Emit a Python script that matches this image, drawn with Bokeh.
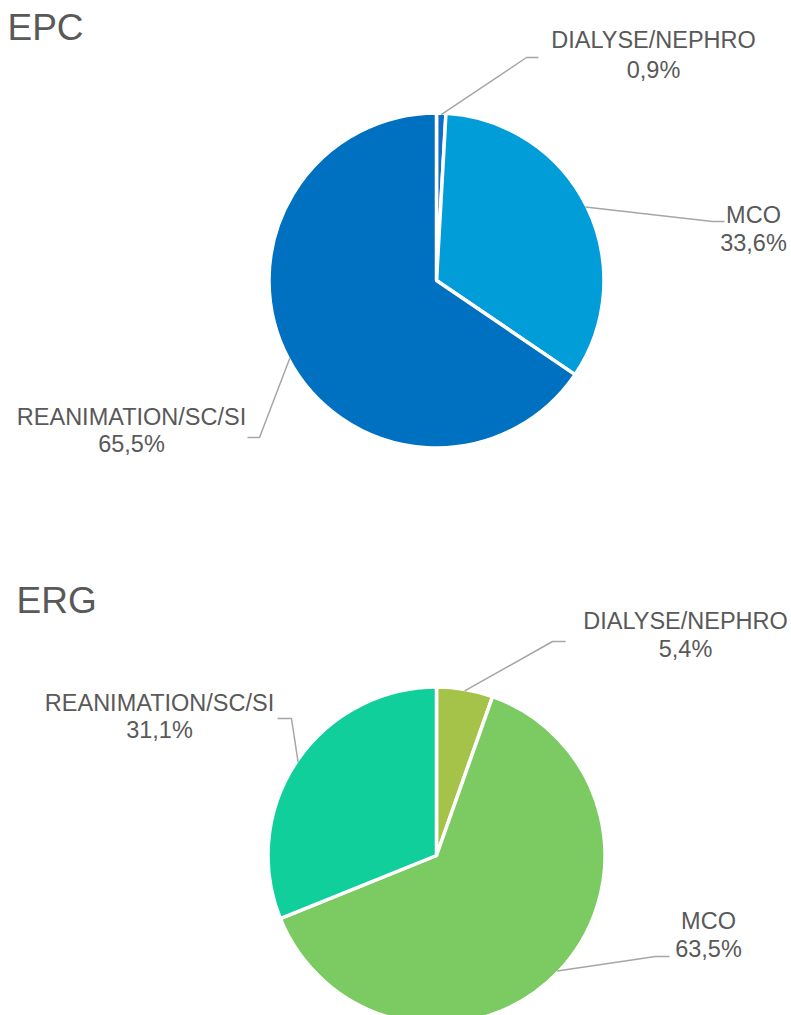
import math
from bokeh.plotting import figure
from bokeh.models import ColumnDataSource, Range1d
from bokeh.core.properties import value
from bokeh.embed import file_html
from bokeh.resources import INLINE

# ---------------- data ----------------
categories = ["DIALYSE/NEPHRO", "MCO", "REANIMATION/SC/SI"]
epc_values = [0.9, 33.6, 65.5]
erg_values = [5.4, 63.5, 31.1]
epc_colors = ["#0F6FC6", "#009DD9", "#0070C0"]
erg_colors = ["#A5C249", "#7CCA62", "#10CF9B"]
chart_titles = ["EPC", "ERG"]

# ---------------- layout (reference pixel coords) ----------------
W, H = 791, 1015
def X(x):
    return x
def Y(y):
    return H - y

FONT = "Liberation Sans"
TXT = "#595959"
LEAD = "#A6A6A6"
LABEL_SIZE = "23.5px"
LABEL_SHIFT = 8   # rendered text sits lower than the requested baseline
TITLE_SHIFT = 14

charts = [
    dict(title=chart_titles[0], values=epc_values, colors=epc_colors,
         cx=436, cy=280, r=167.5, title_pos=(7, 41),
         labels={  # center x, baseline line1, baseline line2
             "DIALYSE/NEPHRO": (653, 47, 77),
             "MCO": (753, 222, 250),
             "REANIMATION/SC/SI": (131, 424, 451),
         },
         leaders={  # elbow, end
             "DIALYSE/NEPHRO": ((526, 57), (538, 57)),
             "MCO": ((712, 221), (724, 221)),
             "REANIMATION/SC/SI": ((259, 437), (247, 437)),
         }),
    dict(title=chart_titles[1], values=erg_values, colors=erg_colors,
         cx=436, cy=855, r=168.5, title_pos=(16, 614),
         labels={
             "DIALYSE/NEPHRO": (685, 628, 656),
             "MCO": (708, 928, 956),
             "REANIMATION/SC/SI": (159, 710, 737),
         },
         leaders={
             "DIALYSE/NEPHRO": ((552, 641), (565, 641)),
             "MCO": ((655, 956), (669, 956)),
             "REANIMATION/SC/SI": ((291, 718), (277, 718)),
         }),
]

p = figure(width=W, height=H, output_backend="svg", toolbar_location=None,
           x_range=Range1d(0, W), y_range=Range1d(0, H),
           min_border=0, min_border_left=0, min_border_right=0,
           min_border_top=0, min_border_bottom=0)
p.axis.visible = False
p.grid.visible = False
p.outline_line_color = None
p.background_fill_color = "white"

def pct(v):
    return f"{v:.1f}".replace(".", ",") + "%"

for ch in charts:
    vals = ch["values"]
    total = sum(vals)
    cum = [0.0]
    for v in vals:
        cum.append(cum[-1] + v / total)
    starts = [math.pi / 2 - 2 * math.pi * c for c in cum[:-1]]
    ends = [math.pi / 2 - 2 * math.pi * c for c in cum[1:]]
    mids = [math.pi / 2 - 2 * math.pi * (a + b) / 2 for a, b in zip(cum[:-1], cum[1:])]
    src = ColumnDataSource(dict(
        x=[X(ch["cx"])] * len(vals), y=[Y(ch["cy"])] * len(vals),
        start=starts, end=ends, color=ch["colors"], cat=categories, val=vals))
    p.wedge(x="x", y="y", radius=ch["r"], start_angle="start", end_angle="end",
            direction="clock", fill_color="color", line_color="white",
            line_width=3.5, source=src)

    # leader lines and labels
    redge = ch["r"] - 1.5
    for cat, v, m in zip(categories, vals, mids):
        sx = X(ch["cx"]) + redge * math.cos(m)
        sy = Y(ch["cy"]) + redge * math.sin(m)
        (ex, ey), (hx, hy) = ch["leaders"][cat]
        p.line([sx, X(ex), X(hx)], [sy, Y(ey), Y(hy)], line_color=LEAD, line_width=1.5)
        lx, b1, b2 = ch["labels"][cat]
        p.text(x=[X(lx)], y=[Y(b1 - LABEL_SHIFT)], text=[cat], text_font=value(FONT),
               text_font_size=LABEL_SIZE, text_color=TXT, text_align="center",
               text_baseline="alphabetic")
        p.text(x=[X(lx)], y=[Y(b2 - LABEL_SHIFT)], text=[pct(v)], text_font=value(FONT),
               text_font_size=LABEL_SIZE, text_color=TXT, text_align="center",
               text_baseline="alphabetic")

    tx, ty = ch["title_pos"]
    p.text(x=[X(tx)], y=[Y(ty - TITLE_SHIFT)], text=[ch["title"]], text_font=value(FONT),
           text_font_size="37px", text_color=TXT, text_align="left",
           text_baseline="alphabetic")

open("out.html", "w").write(file_html(p, INLINE))
